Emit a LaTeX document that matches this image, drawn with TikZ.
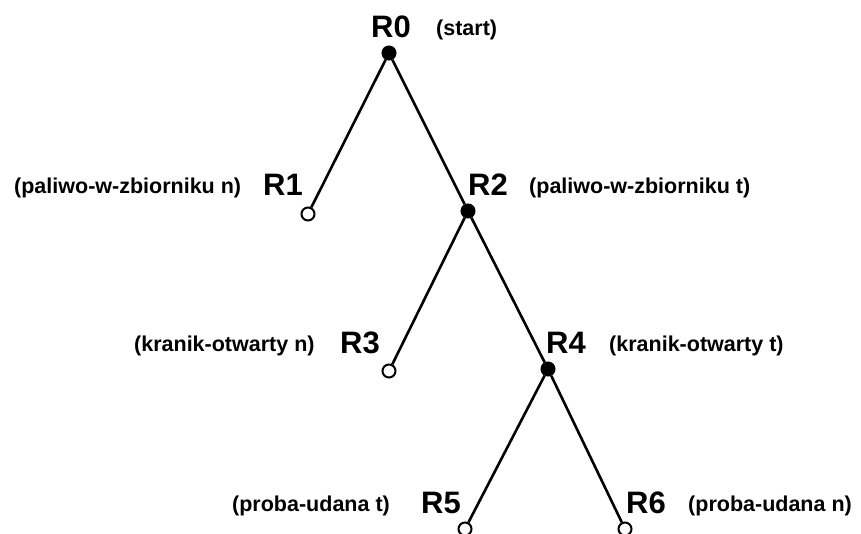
\documentclass[tikz,border=0pt]{standalone}
\usepackage{fontspec}
\setmainfont{Liberation Sans}
\begin{document}
\begin{tikzpicture}[x=1pt,y=-1pt,
  state/.style={circle,inner sep=0pt,line width=2pt,draw=black},
  closed/.style={state,fill=black,line width=1pt,minimum size=14pt},
  open/.style={state,fill=white,minimum size=13pt},
  edge/.style={line width=2.6pt},
  rname/.style={anchor=base west,inner sep=0pt,font=\fontsize{31}{31}\selectfont\bfseries},
  rdesc/.style={anchor=base west,inner sep=0pt,font=\fontsize{21.5}{22}\selectfont\bfseries}]
\useasboundingbox (0,0) rectangle (861,533);

% tree states
\node[closed] (r0) at (389,53) {};
\node[open]   (r1) at (308,214) {};
\node[closed] (r2) at (468,211) {};
\node[open]   (r3) at (389,371) {};
\node[closed] (r4) at (548,369) {};
\node[open]   (r5) at (465,529) {};
\node[open]   (r6) at (625,529) {};

% branches
\draw[edge] (r0) -- (r1);
\draw[edge] (r0) -- (r2);
\draw[edge] (r2) -- (r3);
\draw[edge] (r2) -- (r4);
\draw[edge] (r4) -- (r5);
\draw[edge] (r4) -- (r6);

% state names
\node[rname] (n0) at (371,37) {R0};
\node[rname] (n1) at (263,195) {R1};
\node[rname] (n2) at (468,195) {R2};
\node[rname] (n3) at (340,353) {R3};
\node[rname] (n4) at (546,353) {R4};
\node[rname] (n5) at (421,513) {R5};
\node[rname] (n6) at (626,513) {R6};

% descriptions
\node[rdesc] (d0) at (436,35) {(start)};
\node[rdesc] (d1) at (14,193) {(paliwo-w-zbiorniku n)};
\node[rdesc] (d2) at (529,193) {(paliwo-w-zbiorniku t)};
\node[rdesc] (d3) at (134,351) {(kranik-otwarty n)};
\node[rdesc] (d4) at (609,351) {(kranik-otwarty t)};
\node[rdesc] (d5) at (232,511) {(proba-udana t)};
\node[rdesc] (d6) at (688,511) {(proba-udana n)};
\end{tikzpicture}
\end{document}
